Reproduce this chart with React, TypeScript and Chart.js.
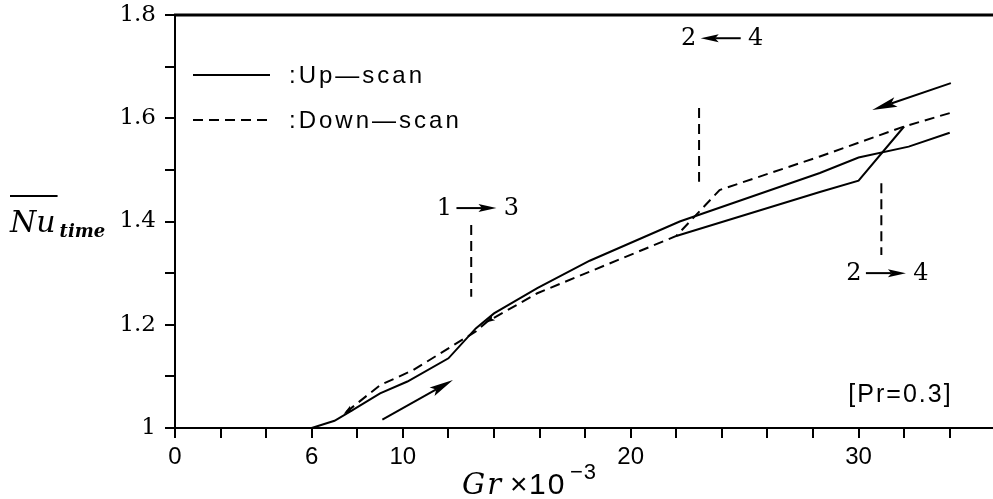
import React, { useEffect, useRef } from 'react';
import { Chart, registerables } from 'chart.js';

Chart.register(...registerables);

// ---- data (Gr x 10^-3 , Nu_time) ----
const upScanAX = [6, 7.0, 7.7, 9.0, 10.2, 12.0, 13.2, 14.0, 15.9, 18.2, 22.15, 28.3, 30.0, 32.2, 34.0];
const upScanAY = [1.0, 1.014, 1.032, 1.067, 1.09, 1.135, 1.193, 1.222, 1.271, 1.324, 1.4, 1.494, 1.524, 1.545, 1.572];

const upScanBX = [22.0, 28.3, 30.0, 32.0];
const upScanBY = [1.372, 1.457, 1.479, 1.584];

const downScanX = [34.0, 32.0, 28.3, 23.9, 22.0, 15.9, 13.7, 13.2, 10.45, 9.0, 7.35];
const downScanY = [1.61, 1.584, 1.526, 1.461, 1.372, 1.261, 1.206, 1.187, 1.112, 1.083, 1.025];

// small direction heads on the down-scan curve (tail -> tip)
const dashHeadTailX = [14.6, 8.3];
const dashHeadTailY = [1.229, 1.055];
const dashHeadTipX = [13.6, 7.4];
const dashHeadTipY = [1.204, 1.027];

// direction arrows (start -> tip)
const arrowUpX = [9.1, 12.2];
const arrowUpY = [1.016, 1.093];
const arrowDownX = [34.05, 30.6];
const arrowDownY = [1.668, 1.616];

// transition markers
const transFrom = ['1', '2', '2'];
const transTo = ['3', '4', '4'];
const transDir = [1, -1, 1];
const transArrowX = [13.23, 23.95, 31.2];
const transLabelY = [1.426, 1.755, 1.3];
const transLineX = [13.0, 23.0, 31.0];
const transLineTop = [1.393, 1.62, 1.474];
const transLineBottom = [1.254, 1.477, 1.335];

// note
const noteText = '[Pr=0.3]';
const noteX = 31.84;
const noteY = 1.064;

// axes
const xMin = 0;
const xMax = 35.9;
const xStep = 2;
const xLabelValues = [0, 6, 10, 20, 30];
const yMin = 1.0;
const yMax = 1.8;
const yStep = 0.1;

const legendLabels = [':Up\u2014scan', ':Down\u2014scan'];

const toPts = (xs: number[], ys: number[]) => xs.map((x, i) => ({ x, y: ys[i] }));

function drawArrow(ctx: CanvasRenderingContext2D, x1: number, y1: number, x2: number, y2: number, headLen: number, headHalf: number, lw: number, shaft = true) {
  const ang = Math.atan2(y2 - y1, x2 - x1);
  const bx = x2 - Math.cos(ang) * headLen * 0.8;
  const by = y2 - Math.sin(ang) * headLen * 0.8;
  ctx.save();
  ctx.strokeStyle = '#000';
  ctx.fillStyle = '#000';
  ctx.lineWidth = lw;
  ctx.setLineDash([]);
  if (shaft) {
    ctx.beginPath();
    ctx.moveTo(x1, y1);
    ctx.lineTo(bx, by);
    ctx.stroke();
  }
  const hx = x2 - Math.cos(ang) * headLen;
  const hy = y2 - Math.sin(ang) * headLen;
  const px = -Math.sin(ang) * headHalf;
  const py = Math.cos(ang) * headHalf;
  ctx.beginPath();
  ctx.moveTo(x2, y2);
  ctx.lineTo(hx + px, hy + py);
  ctx.lineTo(bx, by);
  ctx.lineTo(hx - px, hy - py);
  ctx.closePath();
  ctx.fill();
  ctx.restore();
}

const annotPlugin = {
  id: 'annot',
  afterDraw(chart: any) {
    const { ctx, chartArea, scales } = chart;
    const xs = scales.x;
    const ys = scales.y;
    const px = (v: number) => xs.getPixelForValue(v);
    const py = (v: number) => ys.getPixelForValue(v);
    ctx.save();
    // top frame line
    ctx.strokeStyle = '#000';
    ctx.lineWidth = 3;
    ctx.beginPath();
    ctx.moveTo(chartArea.left - 1, chartArea.top);
    ctx.lineTo(chartArea.right, chartArea.top);
    ctx.stroke();

    // direction arrows
    drawArrow(ctx, px(arrowUpX[0]), py(arrowUpY[0]), px(arrowUpX[1]), py(arrowUpY[1]), 24, 5, 2);
    drawArrow(ctx, px(arrowDownX[0]), py(arrowDownY[0]), px(arrowDownX[1]), py(arrowDownY[1]), 25, 5, 2);

    // small heads on down-scan curve
    for (let i = 0; i < dashHeadTipX.length; i++) {
      drawArrow(ctx, px(dashHeadTailX[i]), py(dashHeadTailY[i]), px(dashHeadTipX[i]), py(dashHeadTipY[i]), 10, 3, 1.5, false);
    }

    // transitions
    for (let i = 0; i < transFrom.length; i++) {
      const cx = px(transArrowX[i]);
      const cy = py(transLabelY[i]);
      ctx.font = '24px "DejaVu Serif"';
      ctx.fillStyle = '#000';
      ctx.textAlign = 'center';
      ctx.textBaseline = 'middle';
      ctx.fillText(transFrom[i], cx - 32, cy + 1);
      ctx.fillText(transTo[i], cx + 35, cy + 1);
      if (transDir[i] > 0) drawArrow(ctx, cx - 20, cy, cx + 20, cy, 18, 4, 2);
      else drawArrow(ctx, cx + 20, cy, cx - 20, cy, 18, 4, 2);
      ctx.save();
      ctx.setLineDash([10, 6]);
      ctx.lineWidth = 2;
      ctx.beginPath();
      ctx.moveTo(px(transLineX[i]), py(transLineTop[i]));
      ctx.lineTo(px(transLineX[i]), py(transLineBottom[i]));
      ctx.stroke();
      ctx.restore();
    }

    // note
    ctx.font = '25px "Liberation Sans"';
    (ctx as any).letterSpacing = '2px';
    ctx.textAlign = 'center';
    ctx.textBaseline = 'middle';
    ctx.fillText(noteText, px(noteX), py(noteY));

    // legend
    const lx0 = chartArea.left + 18;
    const lx1 = chartArea.left + 95;
    const ly = [chartArea.top + 60, chartArea.top + 105];
    ctx.lineWidth = 2;
    ctx.beginPath();
    ctx.moveTo(lx0, ly[0]);
    ctx.lineTo(lx1, ly[0]);
    ctx.stroke();
    ctx.save();
    ctx.setLineDash([10, 6]);
    ctx.beginPath();
    ctx.moveTo(lx0, ly[1]);
    ctx.lineTo(lx1, ly[1]);
    ctx.stroke();
    ctx.restore();
    ctx.font = '24px "Liberation Sans"';
    (ctx as any).letterSpacing = '3px';
    ctx.textAlign = 'left';
    ctx.textBaseline = 'middle';
    ctx.fillText(legendLabels[0], chartArea.left + 114, ly[0] + 1);
    ctx.fillText(legendLabels[1], chartArea.left + 114, ly[1] + 1);
    (ctx as any).letterSpacing = '0px';

    // y-axis title: Nu (overline) with subscript "time"
    ctx.textAlign = 'left';
    ctx.textBaseline = 'alphabetic';
    ctx.font = 'italic 30px "DejaVu Serif"';
    ctx.fillText('Nu', 10, 232);
    const nuW = ctx.measureText('Nu').width;
    ctx.lineWidth = 2;
    ctx.beginPath();
    ctx.moveTo(10, 196);
    ctx.lineTo(12 + nuW, 196);
    ctx.stroke();
    ctx.font = 'italic bold 18px "DejaVu Serif"';
    ctx.fillText('time', 14 + nuW, 237);

    // x-axis title: Gr x 10^-3
    const base = 494;
    ctx.font = 'italic 29px "DejaVu Serif"';
    (ctx as any).letterSpacing = '2px';
    ctx.fillText('Gr', 462, base);
    (ctx as any).letterSpacing = '0px';
    ctx.font = '30px "Liberation Sans"';
    ctx.fillText('\u00d7', 510, base);
    (ctx as any).letterSpacing = '2px';
    ctx.fillText('10', 529, base);
    ctx.font = '22px "Liberation Sans"';
    (ctx as any).letterSpacing = '1px';
    ctx.fillText('\u22123', 570, 479);
    (ctx as any).letterSpacing = '0px';
    ctx.restore();
  },
};

export default function App() {
  const ref = useRef<HTMLCanvasElement | null>(null);
  useEffect(() => {
    if (!ref.current) return;
    const lineBase = { borderColor: '#000', borderWidth: 2, pointRadius: 0, tension: 0, fill: false };
    const chart = new Chart(ref.current, {
      type: 'line',
      data: {
        datasets: [
          { ...lineBase, label: 'Up-scan', data: toPts(upScanAX, upScanAY) },
          { ...lineBase, label: 'Up-scan (state 2)', data: toPts(upScanBX, upScanBY) },
          { ...lineBase, label: 'Down-scan', data: toPts(downScanX, downScanY), borderDash: [10, 6] },
        ],
      },
      options: {
        animation: false,
        responsive: false,
        devicePixelRatio: 1,
        layout: { padding: { top: 15, left: 0, right: 0, bottom: 0 } },
        plugins: { legend: { display: false }, tooltip: { enabled: false } },
        scales: {
          x: {
            type: 'linear',
            min: xMin,
            max: xMax,
            afterFit: (s: any) => { s.height = 71; s.paddingLeft = 0; s.paddingRight = 0; },
            grid: { drawOnChartArea: false, drawTicks: true, tickLength: 10, color: '#000', lineWidth: 2 },
            border: { display: true, color: '#000', width: 2 },
            ticks: {
              stepSize: xStep,
              includeBounds: false,
              autoSkip: false,
              maxRotation: 0,
              padding: 5,
              color: '#000',
              font: { family: 'Liberation Sans', size: 24 },
              callback: (v: any) => (xLabelValues.includes(Math.round(v)) ? String(Math.round(v)) : ''),
            },
          },
          y: {
            type: 'linear',
            min: yMin,
            max: yMax,
            afterFit: (s: any) => { s.width = 175; s.paddingTop = 0; s.paddingBottom = 0; },
            grid: { drawOnChartArea: false, drawTicks: true, tickLength: 10, color: '#000', lineWidth: 2 },
            border: { display: true, color: '#000', width: 2 },
            ticks: {
              stepSize: yStep,
              autoSkip: false,
              padding: 9,
              color: '#000',
              font: { family: 'DejaVu Serif', size: 23 },
              callback: (v: any) => {
                const k = Math.round(v * 10);
                if (k % 2) return '';
                return k === 10 ? '1' : (k / 10).toFixed(1);
              },
            },
          },
        },
      },
      plugins: [annotPlugin],
    } as any);
    return () => chart.destroy();
  }, []);
  return (
    <div style={{ position: 'absolute', left: 0, top: 0, width: 993, height: 499, overflow: 'hidden', background: '#fff' }}>
      <canvas ref={ref} width={993} height={499} style={{ display: 'block' }} />
    </div>
  );
}
